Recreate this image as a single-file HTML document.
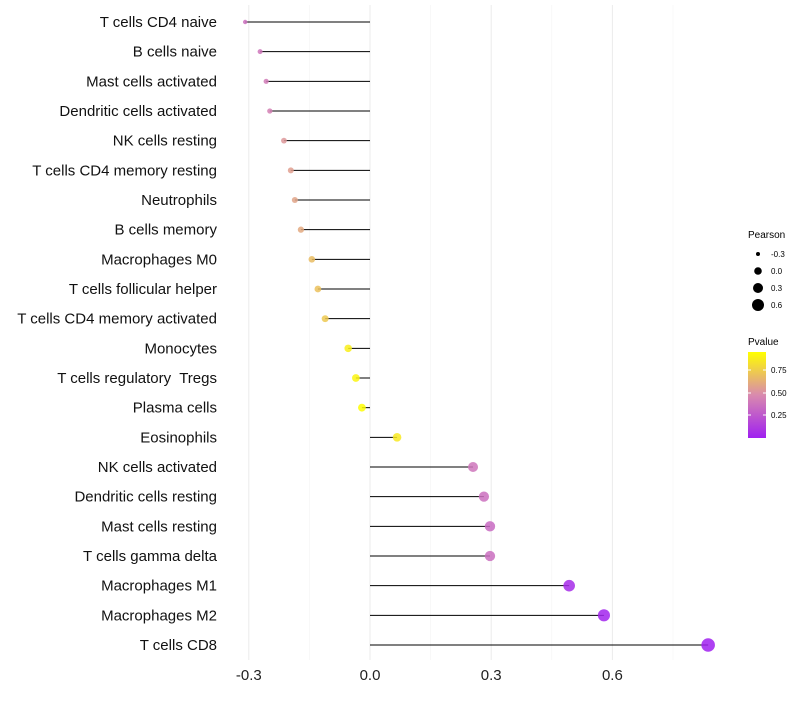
<!DOCTYPE html>
<html><head><meta charset="utf-8"><style>
body{margin:0;background:#fff;font-family:"Liberation Sans",sans-serif}
</style></head><body>
<svg id="c" width="800" height="700" font-family="Liberation Sans, sans-serif">
<defs><linearGradient id="pg" x1="0" y1="1" x2="0" y2="0">
<stop offset="0" stop-color="#a020f0"/><stop offset="0.5" stop-color="#d98aae"/><stop offset="1" stop-color="#ffff00"/></linearGradient></defs>
<g id="grid"></g><g id="marks"></g><g id="labels"></g>
<g font-size="10">
<text x="748" y="238" fill="#000">Pearson</text>
<circle cx="758" cy="254" r="2" fill="#000"/><text x="771" y="257" font-size="8">-0.3</text>
<circle cx="758" cy="271" r="3.8" fill="#000"/><text x="771" y="274" font-size="8">0.0</text>
<circle cx="758" cy="288" r="5" fill="#000"/><text x="771" y="291" font-size="8">0.3</text>
<circle cx="758" cy="305" r="6" fill="#000"/><text x="771" y="308" font-size="8">0.6</text>
<text x="748" y="345" fill="#000">Pvalue</text>
<rect x="748" y="352" width="18" height="86" fill="url(#pg)"/>
<line x1="748" x2="751" y1="370" y2="370" stroke="#fff"/><line x1="763" x2="766" y1="370" y2="370" stroke="#fff"/>
<line x1="748" x2="751" y1="393" y2="393" stroke="#fff"/><line x1="763" x2="766" y1="393" y2="393" stroke="#fff"/>
<line x1="748" x2="751" y1="415" y2="415" stroke="#fff"/><line x1="763" x2="766" y1="415" y2="415" stroke="#fff"/>
<text x="771" y="373" font-size="8">0.75</text><text x="771" y="396" font-size="8">0.50</text><text x="771" y="418" font-size="8">0.25</text>
</g>
</svg>
<script>
const cells=["T cells CD4 naive","B cells naive","Mast cells activated","Dendritic cells activated","NK cells resting","T cells CD4 memory resting","Neutrophils","B cells memory","Macrophages M0","T cells follicular helper","T cells CD4 memory activated","Monocytes","T cells regulatory  Tregs","Plasma cells","Eosinophils","NK cells activated","Dendritic cells resting","Mast cells resting","T cells gamma delta","Macrophages M1","Macrophages M2","T cells CD8"];
const pearson=[-0.309,-0.272,-0.257,-0.248,-0.213,-0.196,-0.186,-0.171,-0.144,-0.129,-0.111,-0.054,-0.035,-0.020,0.067,0.255,0.282,0.297,0.297,0.493,0.579,0.837];
const pvalue=[0.38,0.40,0.43,0.45,0.55,0.58,0.60,0.62,0.70,0.72,0.75,0.90,0.93,0.96,0.88,0.40,0.38,0.35,0.37,0.07,0.04,0.02];
const ticks=[-0.3,0,0.3,0.6];
const tickLabels=["-0.3","0.0","0.3","0.6"];
const NS="http://www.w3.org/2000/svg";
const X=v=>370+v*404;
const Y=i=>22+i*29.667;
function mk(t,a,p){const e=document.createElementNS(NS,t);for(const k in a)e.setAttribute(k,a[k]);p.appendChild(e);return e;}
function lerp(a,b,t){return a.map((x,i)=>Math.round(x+(b[i]-x)*t));}
function col(p){const c0=[160,32,240],c1=[217,138,174],c2=[255,255,0];const t=Math.max(0,Math.min(1,(p-0.02)/0.95));const c=t<0.5?lerp(c0,c1,t*2):lerp(c1,c2,(t-0.5)*2);return `rgb(${c})`;}
const g=document.getElementById('grid'),m=document.getElementById('marks'),L=document.getElementById('labels');
[-0.15,0.15,0.45,0.75].forEach(v=>{const e=mk('line',{x1:X(v),x2:X(v),y1:5,y2:660,stroke:'#f3f3f3','stroke-width':0.6},g);

});
ticks.forEach((v,i)=>{const e=mk('line',{x1:X(v),x2:X(v),y1:5,y2:660,stroke:'#ebebeb','stroke-width':1},g);


const t=mk('text',{x:X(v),y:680,'text-anchor':'middle','font-size':15,fill:'#222'},L);t.textContent=tickLabels[i];

});
cells.forEach((c,i)=>{const y=Y(i);
const t=mk('text',{x:217,y:y+5,'text-anchor':'end','font-size':15,fill:'#111'},L);t.textContent=c;
t.style.whiteSpace='pre';


const s=mk('line',{x1:X(0),x2:X(pearson[i]),y1:y,y2:y,stroke:'#000','stroke-width':1},m);


const r=Math.sqrt(Math.max(1,16+36*pearson[i]));
const p=mk('circle',{cx:X(pearson[i]),cy:y,r:r,fill:col(pvalue[i]),'fill-opacity':0.85},m);

});
</script>
</body></html>
